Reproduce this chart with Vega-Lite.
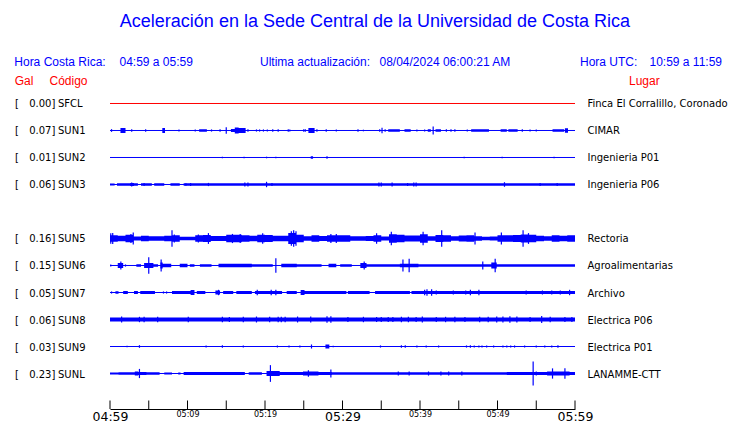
{
  "$schema": "https://vega.github.io/schema/vega-lite/v6.json",
  "width": 465,
  "height": 409,
  "autosize": {"type": "none"},
  "padding": {"left": 110, "top": 0, "right": 165, "bottom": 14},
  "background": "white",
  "config": {"view": {"stroke": null}},
  "datasets": {
    "stations": [
      {"code": "SFCL", "r": 0, "gal": 0.00, "place": "Finca El Corralillo, Coronado"},
      {"code": "SUN1", "r": 1, "gal": 0.07, "place": "CIMAR"},
      {"code": "SUN2", "r": 2, "gal": 0.01, "place": "Ingenieria P01"},
      {"code": "SUN3", "r": 3, "gal": 0.06, "place": "Ingenieria P06"},
      {"code": "SUN5", "r": 5, "gal": 0.16, "place": "Rectoria"},
      {"code": "SUN6", "r": 6, "gal": 0.15, "place": "Agroalimentarias"},
      {"code": "SUN7", "r": 7, "gal": 0.05, "place": "Archivo"},
      {"code": "SUN8", "r": 8, "gal": 0.06, "place": "Electrica P06"},
      {"code": "SUN9", "r": 9, "gal": 0.03, "place": "Electrica P01"},
      {"code": "SUNL", "r": 10, "gal": 0.23, "place": "LANAMME-CTT"}
    ],
    "ticks": [
      {"t": 0}, {"t": 5}, {"t": 10}, {"t": 15}, {"t": 20}, {"t": 25}, {"t": 30}, {"t": 35}, {"t": 40}, {"t": 45}, {"t": 50}, {"t": 55}, {"t": 60}
    ],
    "env": [
      {"s": "SUN1", "t": 0, "a": 0}, {"s": "SUN1", "t": 1.35, "a": 0.09}, {"s": "SUN1", "t": 2.0, "a": 0}, {"s": "SUN1", "t": 6.75, "a": 0.09}, {"s": "SUN1", "t": 7.1, "a": 0}, {"s": "SUN1", "t": 11.5, "a": 0.05}, {"s": "SUN1", "t": 12.5, "a": 0}, {"s": "SUN1", "t": 15.6, "a": 0.06}, {"s": "SUN1", "t": 16.1, "a": 0.11}, {"s": "SUN1", "t": 16.6, "a": 0.09}, {"s": "SUN1", "t": 17.5, "a": 0}, {"s": "SUN1", "t": 25.6, "a": 0.09}, {"s": "SUN1", "t": 26.4, "a": 0}, {"s": "SUN1", "t": 35.9, "a": 0.045}, {"s": "SUN1", "t": 37.4, "a": 0}, {"s": "SUN1", "t": 38.0, "a": 0.05}, {"s": "SUN1", "t": 38.8, "a": 0}, {"s": "SUN1", "t": 41.0, "a": 0.045}, {"s": "SUN1", "t": 41.4, "a": 0}, {"s": "SUN1", "t": 42.0, "a": 0.05}, {"s": "SUN1", "t": 42.7, "a": 0}, {"s": "SUN1", "t": 46.6, "a": 0.045}, {"s": "SUN1", "t": 48.9, "a": 0}, {"s": "SUN1", "t": 50.4, "a": 0.05}, {"s": "SUN1", "t": 51.2, "a": 0}, {"s": "SUN1", "t": 51.4, "a": 0.045}, {"s": "SUN1", "t": 52.6, "a": 0}, {"s": "SUN1", "t": 57.1, "a": 0.05}, {"s": "SUN1", "t": 58.6, "a": 0}, {"s": "SUN1", "t": 58.7, "a": 0.08}, {"s": "SUN1", "t": 59.1, "a": 0}, {"s": "SUN1", "t": 60, "a": 0},
      {"s": "SUN2", "t": 0, "a": 0}, {"s": "SUN2", "t": 25.9, "a": 0.05}, {"s": "SUN2", "t": 26.2, "a": 0}, {"s": "SUN2", "t": 60, "a": 0},
      {"s": "SUN3", "t": 0, "a": 0.04}, {"s": "SUN3", "t": 0.6, "a": 0}, {"s": "SUN3", "t": 0.9, "a": 0.045}, {"s": "SUN3", "t": 2.6, "a": 0.06}, {"s": "SUN3", "t": 3.1, "a": 0.045}, {"s": "SUN3", "t": 3.6, "a": 0}, {"s": "SUN3", "t": 4.0, "a": 0.045}, {"s": "SUN3", "t": 5.4, "a": 0}, {"s": "SUN3", "t": 5.7, "a": 0.045}, {"s": "SUN3", "t": 7.0, "a": 0}, {"s": "SUN3", "t": 7.8, "a": 0.045}, {"s": "SUN3", "t": 9.0, "a": 0}, {"s": "SUN3", "t": 9.5, "a": 0.05}, {"s": "SUN3", "t": 60, "a": 0.05},
      {"s": "SUN5", "t": 0, "a": 0.12}, {"s": "SUN5", "t": 1, "a": 0.1}, {"s": "SUN5", "t": 2, "a": 0.14}, {"s": "SUN5", "t": 3, "a": 0.075}, {"s": "SUN5", "t": 4, "a": 0.1}, {"s": "SUN5", "t": 5, "a": 0.085}, {"s": "SUN5", "t": 6, "a": 0.085}, {"s": "SUN5", "t": 7, "a": 0.1}, {"s": "SUN5", "t": 8, "a": 0.12}, {"s": "SUN5", "t": 9, "a": 0.065}, {"s": "SUN5", "t": 10, "a": 0.065}, {"s": "SUN5", "t": 11, "a": 0.12}, {"s": "SUN5", "t": 12, "a": 0.13}, {"s": "SUN5", "t": 13, "a": 0.09}, {"s": "SUN5", "t": 14, "a": 0.09}, {"s": "SUN5", "t": 15, "a": 0.14}, {"s": "SUN5", "t": 16, "a": 0.14}, {"s": "SUN5", "t": 17, "a": 0.12}, {"s": "SUN5", "t": 18, "a": 0.1}, {"s": "SUN5", "t": 19, "a": 0.14}, {"s": "SUN5", "t": 20, "a": 0.13}, {"s": "SUN5", "t": 21, "a": 0.1}, {"s": "SUN5", "t": 22, "a": 0.1}, {"s": "SUN5", "t": 23, "a": 0.2}, {"s": "SUN5", "t": 24, "a": 0.14}, {"s": "SUN5", "t": 25, "a": 0.085}, {"s": "SUN5", "t": 26, "a": 0.12}, {"s": "SUN5", "t": 27, "a": 0.09}, {"s": "SUN5", "t": 28, "a": 0.12}, {"s": "SUN5", "t": 29, "a": 0.12}, {"s": "SUN5", "t": 30, "a": 0.12}, {"s": "SUN5", "t": 31, "a": 0.085}, {"s": "SUN5", "t": 32, "a": 0.085}, {"s": "SUN5", "t": 33, "a": 0.09}, {"s": "SUN5", "t": 34, "a": 0.12}, {"s": "SUN5", "t": 35, "a": 0.075}, {"s": "SUN5", "t": 36, "a": 0.16}, {"s": "SUN5", "t": 37, "a": 0.14}, {"s": "SUN5", "t": 38, "a": 0.11}, {"s": "SUN5", "t": 39, "a": 0.11}, {"s": "SUN5", "t": 40, "a": 0.16}, {"s": "SUN5", "t": 41, "a": 0.085}, {"s": "SUN5", "t": 42, "a": 0.13}, {"s": "SUN5", "t": 43, "a": 0.12}, {"s": "SUN5", "t": 44, "a": 0.085}, {"s": "SUN5", "t": 45, "a": 0.11}, {"s": "SUN5", "t": 46, "a": 0.12}, {"s": "SUN5", "t": 47, "a": 0.085}, {"s": "SUN5", "t": 48, "a": 0.065}, {"s": "SUN5", "t": 49, "a": 0.075}, {"s": "SUN5", "t": 50, "a": 0.12}, {"s": "SUN5", "t": 51, "a": 0.12}, {"s": "SUN5", "t": 52, "a": 0.13}, {"s": "SUN5", "t": 53, "a": 0.15}, {"s": "SUN5", "t": 54, "a": 0.14}, {"s": "SUN5", "t": 55, "a": 0.1}, {"s": "SUN5", "t": 56, "a": 0.085}, {"s": "SUN5", "t": 57, "a": 0.12}, {"s": "SUN5", "t": 58, "a": 0.1}, {"s": "SUN5", "t": 59, "a": 0.12}, {"s": "SUN5", "t": 60, "a": 0.12},
      {"s": "SUN6", "t": 0, "a": 0}, {"s": "SUN6", "t": 1.0, "a": 0.09}, {"s": "SUN6", "t": 1.7, "a": 0}, {"s": "SUN6", "t": 3.4, "a": 0.05}, {"s": "SUN6", "t": 4.0, "a": 0}, {"s": "SUN6", "t": 4.4, "a": 0.09}, {"s": "SUN6", "t": 5.6, "a": 0.05}, {"s": "SUN6", "t": 6.2, "a": 0}, {"s": "SUN6", "t": 6.5, "a": 0.11}, {"s": "SUN6", "t": 6.8, "a": 0.065}, {"s": "SUN6", "t": 7.9, "a": 0}, {"s": "SUN6", "t": 9.0, "a": 0.065}, {"s": "SUN6", "t": 10.0, "a": 0}, {"s": "SUN6", "t": 10.3, "a": 0.05}, {"s": "SUN6", "t": 10.9, "a": 0}, {"s": "SUN6", "t": 11.6, "a": 0.045}, {"s": "SUN6", "t": 13.1, "a": 0}, {"s": "SUN6", "t": 14.0, "a": 0.065}, {"s": "SUN6", "t": 18.3, "a": 0.045}, {"s": "SUN6", "t": 21.0, "a": 0}, {"s": "SUN6", "t": 22.1, "a": 0.065}, {"s": "SUN6", "t": 24.1, "a": 0.05}, {"s": "SUN6", "t": 27.3, "a": 0}, {"s": "SUN6", "t": 28.2, "a": 0.065}, {"s": "SUN6", "t": 29.2, "a": 0}, {"s": "SUN6", "t": 29.7, "a": 0.045}, {"s": "SUN6", "t": 31.2, "a": 0}, {"s": "SUN6", "t": 32.3, "a": 0.09}, {"s": "SUN6", "t": 33.1, "a": 0.05}, {"s": "SUN6", "t": 37.4, "a": 0.065}, {"s": "SUN6", "t": 39.8, "a": 0.05}, {"s": "SUN6", "t": 45.2, "a": 0.045}, {"s": "SUN6", "t": 46.7, "a": 0.05}, {"s": "SUN6", "t": 49.2, "a": 0.11}, {"s": "SUN6", "t": 49.9, "a": 0.05}, {"s": "SUN6", "t": 60, "a": 0.05},
      {"s": "SUN7", "t": 0, "a": 0}, {"s": "SUN7", "t": 0.7, "a": 0.045}, {"s": "SUN7", "t": 1.1, "a": 0}, {"s": "SUN7", "t": 1.7, "a": 0.055}, {"s": "SUN7", "t": 2.3, "a": 0}, {"s": "SUN7", "t": 3.1, "a": 0.055}, {"s": "SUN7", "t": 3.6, "a": 0}, {"s": "SUN7", "t": 3.9, "a": 0.055}, {"s": "SUN7", "t": 5.8, "a": 0}, {"s": "SUN7", "t": 8.0, "a": 0.055}, {"s": "SUN7", "t": 10.4, "a": 0.09}, {"s": "SUN7", "t": 10.9, "a": 0}, {"s": "SUN7", "t": 11.2, "a": 0.055}, {"s": "SUN7", "t": 12.3, "a": 0}, {"s": "SUN7", "t": 13.6, "a": 0.07}, {"s": "SUN7", "t": 14.2, "a": 0}, {"s": "SUN7", "t": 14.6, "a": 0.055}, {"s": "SUN7", "t": 15.9, "a": 0}, {"s": "SUN7", "t": 16.3, "a": 0.055}, {"s": "SUN7", "t": 18.3, "a": 0}, {"s": "SUN7", "t": 18.7, "a": 0.06}, {"s": "SUN7", "t": 22.2, "a": 0}, {"s": "SUN7", "t": 22.8, "a": 0.055}, {"s": "SUN7", "t": 24.1, "a": 0}, {"s": "SUN7", "t": 24.6, "a": 0.09}, {"s": "SUN7", "t": 25.1, "a": 0.055}, {"s": "SUN7", "t": 30.5, "a": 0}, {"s": "SUN7", "t": 30.7, "a": 0.055}, {"s": "SUN7", "t": 33.5, "a": 0}, {"s": "SUN7", "t": 34.2, "a": 0.055}, {"s": "SUN7", "t": 38.7, "a": 0}, {"s": "SUN7", "t": 38.9, "a": 0.055}, {"s": "SUN7", "t": 60, "a": 0.055},
      {"s": "SUN8", "t": 0, "a": 0.075}, {"s": "SUN8", "t": 60, "a": 0.075},
      {"s": "SUN9", "t": 0, "a": 0}, {"s": "SUN9", "t": 27.8, "a": 0.07}, {"s": "SUN9", "t": 28.3, "a": 0}, {"s": "SUN9", "t": 60, "a": 0},
      {"s": "SUNL", "t": 0, "a": 0.035}, {"s": "SUNL", "t": 1.1, "a": 0.05}, {"s": "SUNL", "t": 3.2, "a": 0.075}, {"s": "SUNL", "t": 3.65, "a": 0.06}, {"s": "SUNL", "t": 4.7, "a": 0.05}, {"s": "SUNL", "t": 6.4, "a": 0}, {"s": "SUNL", "t": 7.0, "a": 0.035}, {"s": "SUNL", "t": 8.0, "a": 0}, {"s": "SUNL", "t": 8.8, "a": 0.035}, {"s": "SUNL", "t": 9.1, "a": 0}, {"s": "SUNL", "t": 9.5, "a": 0.06}, {"s": "SUNL", "t": 12.3, "a": 0.055}, {"s": "SUNL", "t": 17.4, "a": 0}, {"s": "SUNL", "t": 17.9, "a": 0.05}, {"s": "SUNL", "t": 19.6, "a": 0}, {"s": "SUNL", "t": 20.2, "a": 0.09}, {"s": "SUNL", "t": 21.9, "a": 0.06}, {"s": "SUNL", "t": 24.9, "a": 0.07}, {"s": "SUNL", "t": 26.9, "a": 0.06}, {"s": "SUNL", "t": 28.6, "a": 0.05}, {"s": "SUNL", "t": 51.2, "a": 0.06}, {"s": "SUNL", "t": 56.4, "a": 0.07}, {"s": "SUNL", "t": 59.3, "a": 0.06}, {"s": "SUNL", "t": 60, "a": 0.06}
    ],
    "spk": [
      {"s": "SUN1", "t": 0.2, "a": 0.05}, {"s": "SUN1", "t": 2.8, "a": 0.05}, {"s": "SUN1", "t": 4.6, "a": 0.05}, {"s": "SUN1", "t": 8.9, "a": 0.04}, {"s": "SUN1", "t": 11.0, "a": 0.04}, {"s": "SUN1", "t": 13.1, "a": 0.04}, {"s": "SUN1", "t": 14.2, "a": 0.05}, {"s": "SUN1", "t": 15.0, "a": 0.12}, {"s": "SUN1", "t": 17.8, "a": 0.05}, {"s": "SUN1", "t": 18.9, "a": 0.04}, {"s": "SUN1", "t": 19.3, "a": 0.04}, {"s": "SUN1", "t": 19.8, "a": 0.04}, {"s": "SUN1", "t": 20.3, "a": 0.04}, {"s": "SUN1", "t": 21.0, "a": 0.05}, {"s": "SUN1", "t": 21.7, "a": 0.05}, {"s": "SUN1", "t": 23.0, "a": 0.05}, {"s": "SUN1", "t": 23.2, "a": 0.04}, {"s": "SUN1", "t": 25.0, "a": 0.05}, {"s": "SUN1", "t": 25.2, "a": 0.05}, {"s": "SUN1", "t": 26.7, "a": 0.05}, {"s": "SUN1", "t": 27.9, "a": 0.05}, {"s": "SUN1", "t": 29.2, "a": 0.04}, {"s": "SUN1", "t": 32.0, "a": 0.05}, {"s": "SUN1", "t": 32.7, "a": 0.03}, {"s": "SUN1", "t": 34.8, "a": 0.05}, {"s": "SUN1", "t": 35.1, "a": 0.1}, {"s": "SUN1", "t": 35.5, "a": 0.05}, {"s": "SUN1", "t": 39.6, "a": 0.04}, {"s": "SUN1", "t": 40.6, "a": 0.04}, {"s": "SUN1", "t": 41.7, "a": 0.15}, {"s": "SUN1", "t": 43.4, "a": 0.05}, {"s": "SUN1", "t": 44.0, "a": 0.05}, {"s": "SUN1", "t": 44.5, "a": 0.05}, {"s": "SUN1", "t": 46.1, "a": 0.04}, {"s": "SUN1", "t": 53.2, "a": 0.05}, {"s": "SUN1", "t": 54.2, "a": 0.04}, {"s": "SUN1", "t": 55.0, "a": 0.04},
      {"s": "SUN2", "t": 14.5, "a": 0.03}, {"s": "SUN2", "t": 17.3, "a": 0.03}, {"s": "SUN2", "t": 20.2, "a": 0.03}, {"s": "SUN2", "t": 21.4, "a": 0.03}, {"s": "SUN2", "t": 28.0, "a": 0.05}, {"s": "SUN2", "t": 45.7, "a": 0.03}, {"s": "SUN2", "t": 50.6, "a": 0.03}, {"s": "SUN2", "t": 57.3, "a": 0.03},
      {"s": "SUN3", "t": 2.8, "a": 0.075}, {"s": "SUN3", "t": 4.4, "a": 0.06}, {"s": "SUN3", "t": 9.8, "a": 0.05}, {"s": "SUN3", "t": 10.4, "a": 0.06}, {"s": "SUN3", "t": 12.7, "a": 0.06}, {"s": "SUN3", "t": 17.4, "a": 0.075}, {"s": "SUN3", "t": 17.8, "a": 0.075}, {"s": "SUN3", "t": 20.2, "a": 0.1}, {"s": "SUN3", "t": 20.9, "a": 0.06}, {"s": "SUN3", "t": 34.7, "a": 0.075}, {"s": "SUN3", "t": 35.0, "a": 0.075}, {"s": "SUN3", "t": 36.4, "a": 0.075}, {"s": "SUN3", "t": 38.4, "a": 0.06}, {"s": "SUN3", "t": 39.2, "a": 0.075}, {"s": "SUN3", "t": 39.5, "a": 0.075}, {"s": "SUN3", "t": 50.9, "a": 0.085}, {"s": "SUN3", "t": 55.5, "a": 0.06}, {"s": "SUN3", "t": 57.7, "a": 0.06},
      {"s": "SUN5", "t": 0.1, "a": 0.19}, {"s": "SUN5", "t": 0.35, "a": 0.2}, {"s": "SUN5", "t": 2.7, "a": 0.17}, {"s": "SUN5", "t": 3.0, "a": 0.22}, {"s": "SUN5", "t": 8.0, "a": 0.31}, {"s": "SUN5", "t": 8.3, "a": 0.15}, {"s": "SUN5", "t": 11.4, "a": 0.15}, {"s": "SUN5", "t": 12.7, "a": 0.2}, {"s": "SUN5", "t": 15.8, "a": 0.17}, {"s": "SUN5", "t": 16.8, "a": 0.17}, {"s": "SUN5", "t": 19.7, "a": 0.19}, {"s": "SUN5", "t": 23.4, "a": 0.27}, {"s": "SUN5", "t": 23.7, "a": 0.31}, {"s": "SUN5", "t": 24.0, "a": 0.27}, {"s": "SUN5", "t": 28.5, "a": 0.17}, {"s": "SUN5", "t": 29.2, "a": 0.17}, {"s": "SUN5", "t": 34.4, "a": 0.19}, {"s": "SUN5", "t": 36.3, "a": 0.25}, {"s": "SUN5", "t": 40.4, "a": 0.25}, {"s": "SUN5", "t": 42.8, "a": 0.31}, {"s": "SUN5", "t": 47.1, "a": 0.22}, {"s": "SUN5", "t": 50.5, "a": 0.22}, {"s": "SUN5", "t": 53.3, "a": 0.31}, {"s": "SUN5", "t": 54.0, "a": 0.2},
      {"s": "SUN6", "t": 0.1, "a": 0.04}, {"s": "SUN6", "t": 1.4, "a": 0.15}, {"s": "SUN6", "t": 2.0, "a": 0.04}, {"s": "SUN6", "t": 5.0, "a": 0.31}, {"s": "SUN6", "t": 6.6, "a": 0.22}, {"s": "SUN6", "t": 21.4, "a": 0.27}, {"s": "SUN6", "t": 32.8, "a": 0.15}, {"s": "SUN6", "t": 37.8, "a": 0.22}, {"s": "SUN6", "t": 38.6, "a": 0.25}, {"s": "SUN6", "t": 48.1, "a": 0.15}, {"s": "SUN6", "t": 49.7, "a": 0.25},
      {"s": "SUN7", "t": 0.2, "a": 0.04}, {"s": "SUN7", "t": 6.9, "a": 0.04}, {"s": "SUN7", "t": 7.3, "a": 0.04}, {"s": "SUN7", "t": 14.0, "a": 0.1}, {"s": "SUN7", "t": 19.0, "a": 0.1}, {"s": "SUN7", "t": 20.8, "a": 0.1}, {"s": "SUN7", "t": 21.4, "a": 0.1}, {"s": "SUN7", "t": 40.6, "a": 0.1}, {"s": "SUN7", "t": 40.9, "a": 0.12}, {"s": "SUN7", "t": 41.5, "a": 0.12}, {"s": "SUN7", "t": 42.1, "a": 0.075}, {"s": "SUN7", "t": 44.3, "a": 0.075}, {"s": "SUN7", "t": 45.9, "a": 0.075}, {"s": "SUN7", "t": 46.5, "a": 0.1}, {"s": "SUN7", "t": 47.6, "a": 0.1}, {"s": "SUN7", "t": 53.7, "a": 0.075}, {"s": "SUN7", "t": 55.8, "a": 0.075}, {"s": "SUN7", "t": 57.0, "a": 0.075}, {"s": "SUN7", "t": 58.1, "a": 0.075}, {"s": "SUN7", "t": 59.3, "a": 0.1},
      {"s": "SUN8", "t": 1.5, "a": 0.11}, {"s": "SUN8", "t": 3.8, "a": 0.1}, {"s": "SUN8", "t": 4.4, "a": 0.1}, {"s": "SUN8", "t": 6.15, "a": 0.1}, {"s": "SUN8", "t": 10.1, "a": 0.1}, {"s": "SUN8", "t": 14.5, "a": 0.1}, {"s": "SUN8", "t": 15.4, "a": 0.09}, {"s": "SUN8", "t": 17.2, "a": 0.1}, {"s": "SUN8", "t": 18.9, "a": 0.11}, {"s": "SUN8", "t": 20.6, "a": 0.1}, {"s": "SUN8", "t": 21.7, "a": 0.1}, {"s": "SUN8", "t": 22.1, "a": 0.1}, {"s": "SUN8", "t": 22.6, "a": 0.1}, {"s": "SUN8", "t": 24.2, "a": 0.11}, {"s": "SUN8", "t": 25.9, "a": 0.11}, {"s": "SUN8", "t": 28.0, "a": 0.12}, {"s": "SUN8", "t": 28.5, "a": 0.12}, {"s": "SUN8", "t": 30.7, "a": 0.09}, {"s": "SUN8", "t": 32.7, "a": 0.1}, {"s": "SUN8", "t": 34.4, "a": 0.09}, {"s": "SUN8", "t": 35.0, "a": 0.09}, {"s": "SUN8", "t": 35.9, "a": 0.09}, {"s": "SUN8", "t": 36.5, "a": 0.09}, {"s": "SUN8", "t": 37.6, "a": 0.1}, {"s": "SUN8", "t": 38.5, "a": 0.1}, {"s": "SUN8", "t": 39.5, "a": 0.09}, {"s": "SUN8", "t": 40.3, "a": 0.11}, {"s": "SUN8", "t": 42.1, "a": 0.09}, {"s": "SUN8", "t": 43.3, "a": 0.1}, {"s": "SUN8", "t": 44.5, "a": 0.1}, {"s": "SUN8", "t": 45.8, "a": 0.09}, {"s": "SUN8", "t": 47.7, "a": 0.1}, {"s": "SUN8", "t": 48.8, "a": 0.1}, {"s": "SUN8", "t": 49.9, "a": 0.11}, {"s": "SUN8", "t": 50.7, "a": 0.11}, {"s": "SUN8", "t": 51.6, "a": 0.12}, {"s": "SUN8", "t": 52.5, "a": 0.11}, {"s": "SUN8", "t": 54.2, "a": 0.09}, {"s": "SUN8", "t": 55.7, "a": 0.13}, {"s": "SUN8", "t": 56.8, "a": 0.1}, {"s": "SUN8", "t": 58.7, "a": 0.09}, {"s": "SUN8", "t": 59.6, "a": 0.09},
      {"s": "SUN9", "t": 2.2, "a": 0.025}, {"s": "SUN9", "t": 3.8, "a": 0.05}, {"s": "SUN9", "t": 12.4, "a": 0.04}, {"s": "SUN9", "t": 14.5, "a": 0.05}, {"s": "SUN9", "t": 17.2, "a": 0.04}, {"s": "SUN9", "t": 21.6, "a": 0.04}, {"s": "SUN9", "t": 23.1, "a": 0.04}, {"s": "SUN9", "t": 24.5, "a": 0.04}, {"s": "SUN9", "t": 26.0, "a": 0.075}, {"s": "SUN9", "t": 28.8, "a": 0.025}, {"s": "SUN9", "t": 34.9, "a": 0.04}, {"s": "SUN9", "t": 37.6, "a": 0.05}, {"s": "SUN9", "t": 38.1, "a": 0.05}, {"s": "SUN9", "t": 39.6, "a": 0.04}, {"s": "SUN9", "t": 40.8, "a": 0.04}, {"s": "SUN9", "t": 42.4, "a": 0.04}, {"s": "SUN9", "t": 46.0, "a": 0.04}, {"s": "SUN9", "t": 46.5, "a": 0.05}, {"s": "SUN9", "t": 47.0, "a": 0.04}, {"s": "SUN9", "t": 47.6, "a": 0.04}, {"s": "SUN9", "t": 48.0, "a": 0.04}, {"s": "SUN9", "t": 48.6, "a": 0.04}, {"s": "SUN9", "t": 49.5, "a": 0.04}, {"s": "SUN9", "t": 50.7, "a": 0.04}, {"s": "SUN9", "t": 51.2, "a": 0.04}, {"s": "SUN9", "t": 51.7, "a": 0.04}, {"s": "SUN9", "t": 52.2, "a": 0.04}, {"s": "SUN9", "t": 53.5, "a": 0.04}, {"s": "SUN9", "t": 55.0, "a": 0.04}, {"s": "SUN9", "t": 56.1, "a": 0.04}, {"s": "SUN9", "t": 57.0, "a": 0.04}, {"s": "SUN9", "t": 57.8, "a": 0.05},
      {"s": "SUNL", "t": 3.8, "a": 0.17}, {"s": "SUNL", "t": 20.7, "a": 0.31}, {"s": "SUNL", "t": 25.6, "a": 0.12}, {"s": "SUNL", "t": 28.5, "a": 0.15}, {"s": "SUNL", "t": 37.2, "a": 0.075}, {"s": "SUNL", "t": 38.6, "a": 0.075}, {"s": "SUNL", "t": 41.1, "a": 0.075}, {"s": "SUNL", "t": 42.7, "a": 0.075}, {"s": "SUNL", "t": 43.7, "a": 0.075}, {"s": "SUNL", "t": 45.4, "a": 0.075}, {"s": "SUNL", "t": 54.6, "a": 0.44}, {"s": "SUNL", "t": 55.0, "a": 0.075}, {"s": "SUNL", "t": 57.1, "a": 0.19}, {"s": "SUNL", "t": 58.7, "a": 0.19}
    ]
  },
  "layer": [
    {
      "data": {"name": "ticks"},
      "mark": {"type": "rule", "strokeWidth": 1, "color": "black"},
      "encoding": {
        "x": {
          "field": "t", "type": "quantitative",
          "scale": {"domain": [0, 60], "nice": false, "zero": false},
          "axis": {
            "values": [0, 5, 10, 15, 20, 25, 30, 35, 40, 45, 50, 55, 60],
            "title": null, "grid": false, "ticks": false, "domain": true,
            "domainColor": "black", "domainWidth": 1,
            "labelExpr": "datum.value % 10 === 0 ? '0' + floor((299 + datum.value) / 60) + ':' + (((299 + datum.value) % 60) < 10 ? '0' : '') + ((299 + datum.value) % 60) : ''",
            "labelFont": "DejaVu Sans",
            "labelFontSize": {"condition": {"test": "datum.value % 30 === 0", "value": 12.5}, "value": 8},
            "labelColor": "black",
            "labelBaseline": "top",
            "labelPadding": 1,
            "labelFlush": false,
            "labelOverlap": false,
            "labelBound": false
          }
        },
        "y": {"datum": 11.0, "type": "quantitative", "scale": {"domain": [-3.8333, 11.3148], "reverse": true, "nice": false, "zero": false}, "axis": null},
        "y2": {"datum": 11.3148}
      }
    },
    {
      "data": {"name": "stations"},
      "mark": {"type": "rule", "strokeWidth": 1},
      "encoding": {
        "x": {"datum": 0, "type": "quantitative"},
        "x2": {"datum": 60},
        "y": {"field": "r", "type": "quantitative"},
        "color": {"field": "code", "type": "nominal", "legend": null, "scale": {"domain": ["SFCL", "SUN1", "SUN2", "SUN3", "SUN5", "SUN6", "SUN7", "SUN8", "SUN9", "SUNL"], "range": ["#ff0000", "#0000ff", "#0000ff", "#0000ff", "#0000ff", "#0000ff", "#0000ff", "#0000ff", "#0000ff", "#0000ff"]}}
      }
    },
    {
      "data": {"name": "env"},
      "transform": [{"lookup": "s", "from": {"data": {"name": "stations"}, "key": "code", "fields": ["r"]}}],
      "mark": {"type": "errorband", "interpolate": "step-after", "color": "#0000ff", "band": {"opacity": 1}},
      "encoding": {
        "x": {"field": "t", "type": "quantitative"},
        "y": {"field": "r", "type": "quantitative"},
        "yError": {"field": "a"},
        "detail": {"field": "s"}
      }
    },
    {
      "data": {"name": "spk"},
      "transform": [{"lookup": "s", "from": {"data": {"name": "stations"}, "key": "code", "fields": ["r"]}}],
      "mark": {"type": "errorbar", "ticks": false, "color": "#0000ff", "rule": {"strokeWidth": 1.2}},
      "encoding": {
        "x": {"field": "t", "type": "quantitative"},
        "y": {"field": "r", "type": "quantitative"},
        "yError": {"field": "a"}
      }
    },
    {
      "data": {"name": "stations"},
      "mark": {"type": "text", "align": "left", "baseline": "middle", "dy": 1, "font": "DejaVu Sans", "fontSize": 10, "color": "black"},
      "encoding": {"x": {"datum": -12.26, "type": "quantitative"}, "y": {"field": "r", "type": "quantitative"}, "text": {"value": "["}}
    },
    {
      "data": {"name": "stations"},
      "mark": {"type": "text", "align": "right", "baseline": "middle", "dy": 1, "font": "DejaVu Sans", "fontSize": 10, "color": "black"},
      "encoding": {"x": {"datum": -7.56, "type": "quantitative"}, "y": {"field": "r", "type": "quantitative"}, "text": {"field": "gal", "type": "quantitative", "format": ".2f"}}
    },
    {
      "data": {"name": "stations"},
      "mark": {"type": "text", "align": "left", "baseline": "middle", "dy": 1, "font": "DejaVu Sans", "fontSize": 10, "color": "black"},
      "encoding": {"x": {"datum": -7.56, "type": "quantitative"}, "y": {"field": "r", "type": "quantitative"}, "text": {"value": "]"}}
    },
    {
      "data": {"name": "stations"},
      "mark": {"type": "text", "align": "left", "baseline": "middle", "dy": 1, "font": "DejaVu Sans", "fontSize": 10, "color": "black"},
      "encoding": {"x": {"datum": -6.71, "type": "quantitative"}, "y": {"field": "r", "type": "quantitative"}, "text": {"field": "code"}}
    },
    {
      "data": {"name": "stations"},
      "mark": {"type": "text", "align": "left", "baseline": "middle", "dy": 1, "font": "DejaVu Sans", "fontSize": 10, "color": "black"},
      "encoding": {"x": {"datum": 61.61, "type": "quantitative"}, "y": {"field": "r", "type": "quantitative"}, "text": {"field": "place"}}
    },
    {
      "data": {"values": [{}]},
      "mark": {"type": "text", "align": "center", "baseline": "middle", "font": "Liberation Sans", "fontSize": 18, "color": "#0000ff"},
      "encoding": {"x": {"datum": 34.19, "type": "quantitative"}, "y": {"datum": -3.0, "type": "quantitative"}, "text": {"value": "Aceleración en la Sede Central de la Universidad de Costa Rica"}}
    },
    {
      "data": {"values": [{}]},
      "mark": {"type": "text", "align": "left", "baseline": "middle", "font": "Liberation Sans", "fontSize": 12, "color": "#0000ff"},
      "encoding": {"x": {"datum": -12.35, "type": "quantitative"}, "y": {"datum": -1.548, "type": "quantitative"}, "text": {"value": "Hora Costa Rica:"}}
    },
    {
      "data": {"values": [{}]},
      "mark": {"type": "text", "align": "left", "baseline": "middle", "font": "Liberation Sans", "fontSize": 12, "color": "#0000ff"},
      "encoding": {"x": {"datum": 1.226, "type": "quantitative"}, "y": {"datum": -1.548, "type": "quantitative"}, "text": {"value": "04:59 a 05:59"}}
    },
    {
      "data": {"values": [{}]},
      "mark": {"type": "text", "align": "left", "baseline": "middle", "font": "Liberation Sans", "fontSize": 12, "color": "#0000ff"},
      "encoding": {"x": {"datum": 19.355, "type": "quantitative"}, "y": {"datum": -1.548, "type": "quantitative"}, "text": {"value": "Ultima actualización:"}}
    },
    {
      "data": {"values": [{}]},
      "mark": {"type": "text", "align": "left", "baseline": "middle", "font": "Liberation Sans", "fontSize": 12, "color": "#0000ff"},
      "encoding": {"x": {"datum": 34.774, "type": "quantitative"}, "y": {"datum": -1.548, "type": "quantitative"}, "text": {"value": "08/04/2024 06:00:21 AM"}}
    },
    {
      "data": {"values": [{}]},
      "mark": {"type": "text", "align": "left", "baseline": "middle", "font": "Liberation Sans", "fontSize": 12, "color": "#0000ff"},
      "encoding": {"x": {"datum": 60.645, "type": "quantitative"}, "y": {"datum": -1.548, "type": "quantitative"}, "text": {"value": "Hora UTC:"}}
    },
    {
      "data": {"values": [{}]},
      "mark": {"type": "text", "align": "left", "baseline": "middle", "font": "Liberation Sans", "fontSize": 12, "color": "#0000ff"},
      "encoding": {"x": {"datum": 69.613, "type": "quantitative"}, "y": {"datum": -1.548, "type": "quantitative"}, "text": {"value": "10:59 a 11:59"}}
    },
    {
      "data": {"values": [{}]},
      "mark": {"type": "text", "align": "left", "baseline": "middle", "font": "Liberation Sans", "fontSize": 12, "color": "#ff0000"},
      "encoding": {"x": {"datum": -12.3, "type": "quantitative"}, "y": {"datum": -0.819, "type": "quantitative"}, "text": {"value": "Gal"}}
    },
    {
      "data": {"values": [{}]},
      "mark": {"type": "text", "align": "left", "baseline": "middle", "font": "Liberation Sans", "fontSize": 12, "color": "#ff0000"},
      "encoding": {"x": {"datum": -7.806, "type": "quantitative"}, "y": {"datum": -0.819, "type": "quantitative"}, "text": {"value": "Código"}}
    },
    {
      "data": {"values": [{}]},
      "mark": {"type": "text", "align": "left", "baseline": "middle", "font": "Liberation Sans", "fontSize": 12, "color": "#ff0000"},
      "encoding": {"x": {"datum": 66.968, "type": "quantitative"}, "y": {"datum": -0.819, "type": "quantitative"}, "text": {"value": "Lugar"}}
    }
  ]
}
